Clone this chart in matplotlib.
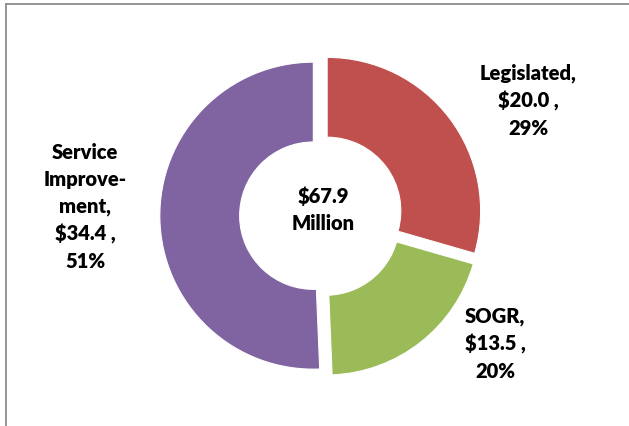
import matplotlib
matplotlib.use("Agg")
import matplotlib.pyplot as plt
from matplotlib.lines import Line2D

categories = ["Legislated", "SOGR", "Service\nImprove-\nment"]
values = [20.0, 13.5, 34.4]
colors = ["#C0504D", "#9BBB59", "#8064A2"]
center_unit = "Million"

W, H = 629, 427
cx, cy_top, R = 321.0, 216.5, 153.5

fig = plt.figure(figsize=(W / 100, H / 100), dpi=100)
ax = fig.add_axes([0, 0, 1, 1])
ax.set_xlim(-cx / R, (W - cx) / R)
ax.set_ylim(-(H - cy_top) / R, cy_top / R)
ax.set_aspect("equal")
ax.axis("off")

ax.pie(values, colors=colors, startangle=90, counterclock=False,
       radius=1.0, center=(0, 0), explode=[0.05] * len(values),
       wedgeprops=dict(width=0.52, edgecolor="white", linewidth=0.8))
ax.set_xlim(-cx / R, (W - cx) / R)
ax.set_ylim(-(H - cy_top) / R, cy_top / R)


def px(x, y):
    return (x - cx) / R, (cy_top - y) / R


total = sum(values)
label_pos = [(528, 101), (495, 344), (85, 207)]
font = dict(family=["Lato", "DejaVu Sans"], fontweight="heavy", fontsize=14.5,
            color="black", ha="center", va="center", linespacing=1.5)
for cat, v, (lx, ly) in zip(categories, values, label_pos):
    pct = round(v / total * 100)
    ax.text(*px(lx, ly), f"{cat},\n${v:.1f} ,\n{pct}%", **font)

ax.text(*px(323, 210), f"${total:.1f}\n{center_unit}", **font)

# chart frame (only left and top edges visible)
fig.add_artist(Line2D([6.5 / W, 6.5 / W], [0, 1 - 4.5 / H], color="#8C8C8C",
                      linewidth=1.3, transform=fig.transFigure))
fig.add_artist(Line2D([6.5 / W, 1], [1 - 4.5 / H, 1 - 4.5 / H], color="#8C8C8C",
                      linewidth=1.3, transform=fig.transFigure))

fig.savefig("out.png", dpi=100, facecolor="white")
